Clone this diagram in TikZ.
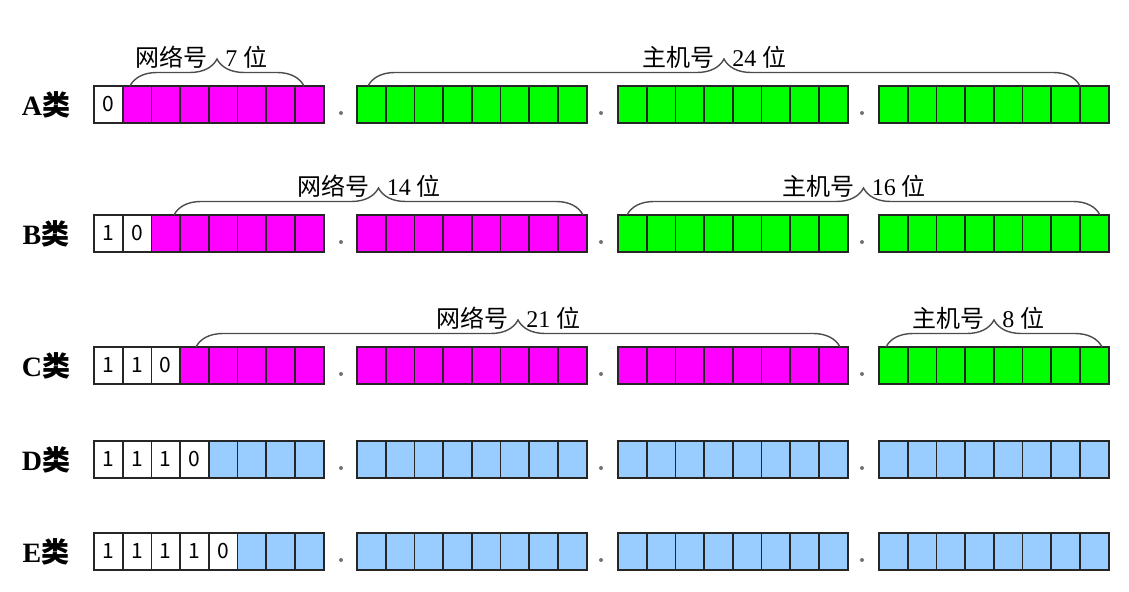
\documentclass[tikz,border=0pt]{standalone}
\usepackage{fontspec}
\setmainfont{Liberation Serif}
\newfontfamily\cjk{Noto Sans CJK SC}
\usetikzlibrary{decorations.pathreplacing}
\definecolor{netcol}{RGB}{255,0,255}
\definecolor{hostcol}{RGB}{0,255,0}
\definecolor{rescol}{RGB}{153,204,255}

% one address row: name, top edge, leading bits, colours of the four bytes
\newcommand{\iprow}[7]{%
	\foreach \b/\bx/\c in {1/94/#4,2/357/#5,3/618/#6,4/879/#7}{
		\foreach \i in {1,...,8}
			\node[cell, fill=\c] (#1-\b-\i) at ({\bx+(\i-.5)*28.7}, {#2+18.5}) {};
	}
	\foreach \d [count=\i] in {#3}
		\node[cell, fill=white] (#1-1-\i) at ({94+(\i-.5)*28.7}, {#2+18.5}) {\d};
	\foreach \b in {1,...,4}
		\draw[frame] (#1-\b-1.north west) rectangle (#1-\b-8.south east); %byte outline
	\foreach \dx in {341,601,862}
		\fill[black!55] (\dx, {#2+27}) circle (1pt); %dots between bytes
}

\begin{document}
\begin{tikzpicture}[x = .5pt, y = -.5pt,
		cell/.style = {draw = black!85, line width = .8pt, minimum width = 14.35pt, minimum height = 18.5pt, inner sep = 0, outer sep = 0, font = \cjk\fontsize{10.5}{12}\selectfont},
		frame/.style = {draw = black!85, line width = .9pt},
		lbl/.style = {inner sep = 0, font = \fontsize{12}{14}\selectfont},
		rowlbl/.style = {inner sep = 0, font = \fontsize{14}{16}\selectfont},
		brace/.style = {decorate, decoration = {brace, amplitude = 13.5pt}, draw = black!70, line width = .7pt}]
	\useasboundingbox (0,0) rectangle (1129,592);
	\iprow{a}{86}{0}{netcol}{hostcol}{hostcol}{hostcol}
	\iprow{b}{215}{1,0}{netcol}{netcol}{hostcol}{hostcol}
	\iprow{c}{347}{1,1,0}{netcol}{netcol}{netcol}{hostcol}
	\iprow{d}{441}{1,1,1,0}{rescol}{rescol}{rescol}{rescol}
	\iprow{e}{533}{1,1,1,1,0}{rescol}{rescol}{rescol}{rescol}
	\foreach \r/\y in {A/86, B/215, C/347, D/441, E/533}
		\node[rowlbl] (\r) at (46, {\y+18.5}) {\textbf{\r}{\cjk\bfseries 类}}; %class names
	\foreach \n/\xl/\xr/\yt/\lt/\nb in {anet/130/304/86/网络号/7, ahost/368/1080/86/主机号/24, bnet/174/583/215/网络号/14, bhost/627/1100/215/主机号/16, cnet/196/840/347/网络号/21, chost/886/1102/347/主机号/8}{
		\coordinate (\n-l) at (\xl, \yt);
		\coordinate (\n-r) at (\xr, \yt);
		\draw[brace] (\n-l) -- (\n-r);
		\node[lbl, anchor = east] (\n) at ({(\xl+\xr)/2-9}, {\yt-29}) {\cjk \lt};
		\node[lbl, anchor = west] (\n-bits) at ({(\xl+\xr)/2+8}, {\yt-29}) {\nb\ {\cjk 位}};
	}
\end{tikzpicture}
\end{document}
